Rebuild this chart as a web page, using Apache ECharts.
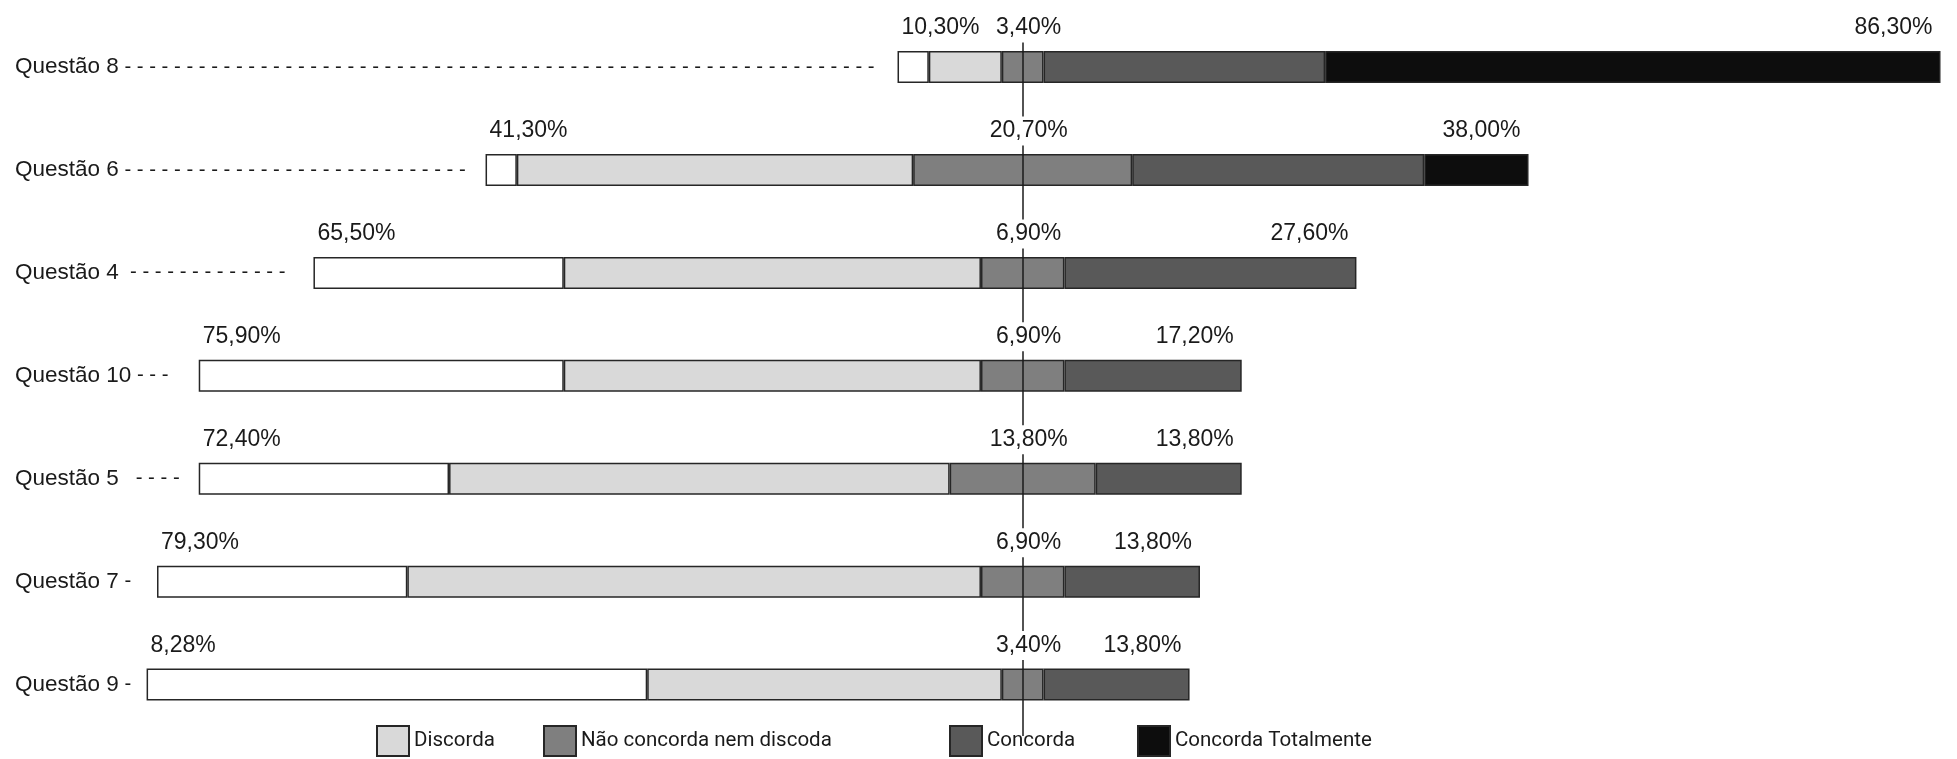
<!DOCTYPE html>
<html>
<head>
<meta charset="utf-8">
<script src="https://cdn.jsdelivr.net/npm/echarts@6/dist/echarts.min.js"></script>
<style>
html,body{margin:0;padding:0;background:#ffffff;}
#chart{width:1957px;height:759px;}
</style>
</head>
<body>
<div id="chart"></div>
<script>
// ---- data ----
const categories = ['Questão 8', 'Questão 6', 'Questão 4', 'Questão 10', 'Questão 5', 'Questão 7', 'Questão 9'];
const labelDashes = [
  ' -'.repeat(61),
  ' -'.repeat(28),
  '  -' + ' -'.repeat(12),
  ' -'.repeat(3),
  '   -' + ' -'.repeat(3),
  ' -',
  ' -'
];
const seriesNames = ['Discorda Totalmente', 'Discorda', 'Não concorda nem discoda', 'Concorda', 'Concorda Totalmente'];
const discordaTotalmente = [3, 3, 24, 35, 24, 24, 48];
const discorda           = [7, 38, 40, 40, 48, 55, 34];
const neutro             = [4, 21, 8, 8, 14, 8, 4];
const concorda           = [27, 28, 28, 17, 14, 13, 14];
const concordaTotalmente = [59, 10, 0, 0, 0, 0, 0];
// printed labels above the bars
const labelDiscordam = [10.3, 41.3, 65.5, 75.9, 72.4, 79.3, 8.28];
const labelNeutros   = [3.4, 20.7, 6.9, 6.9, 13.8, 6.9, 3.4];
const labelConcordam = [86.3, 38.0, 27.6, 17.2, 13.8, 13.8, 13.8];

// ---- chart ----
const CENTER = 90;   // value of the centre line on the hidden value axis
const AXIS_MAX = 178;
const fmt = v => v.toFixed(2).replace('.', ',') + '%';
const offsetData = categories.map((_, i) => CENTER - discordaTotalmente[i] - discorda[i] - neutro[i] / 2);
const centerData = categories.map(() => CENTER);

const border = { borderColor: '#262626', borderWidth: 1.5 };
const pctText = { fontFamily: 'Liberation Sans, Arial, sans-serif', fontSize: 23, color: '#1a1a1a' };
const colors = ['#ffffff', '#d9d9d9', '#7f7f7f', '#595959', '#0d0d0d'];
const values = [discordaTotalmente, discorda, neutro, concorda, concordaTotalmente];

const segSeries = seriesNames.map((name, k) => ({
  name: name,
  type: 'bar',
  stack: 'a',
  barWidth: 32,
  barGap: '-100%',
  itemStyle: Object.assign({ color: colors[k] }, border),
  data: values[k].map(v => (k === 4 && v === 0) ? '-' : v)
}));
// right-hand label: on the last non-empty segment
segSeries[3].label = Object.assign({
  show: true, position: ['100%', 0], align: 'right', verticalAlign: 'middle', offset: [-8, -23],
  formatter: p => concordaTotalmente[p.dataIndex] > 0 ? '' : fmt(labelConcordam[p.dataIndex])
}, pctText);
segSeries[4].label = Object.assign({
  show: true, position: ['100%', 0], align: 'right', verticalAlign: 'middle', offset: [-8, -23],
  formatter: p => fmt(labelConcordam[p.dataIndex])
}, pctText);

const chart = echarts.init(document.getElementById('chart'), null, { renderer: 'canvas' });

const legendBase = {
  orient: 'horizontal', top: 725, itemWidth: 32, itemHeight: 30, itemGap: 0, padding: 0,
  icon: 'rect', selectedMode: false,
  textStyle: { fontFamily: 'Roboto, sans-serif', fontSize: 20.5, color: '#1a1a1a', padding: [0, 0, 14, 0] }
};

chart.setOption({
  animation: false,
  backgroundColor: '#ffffff',
  grid: { left: 84, right: 16.5, top: 15.6, bottom: 23, containLabel: false },
  xAxis: { type: 'value', min: 0, max: AXIS_MAX, show: false },
  yAxis: {
    type: 'category',
    inverse: true,
    data: categories,
    axisLine: { show: false },
    axisTick: { show: false },
    splitLine: { show: false },
    axisLabel: {
      interval: 0,
      align: 'left',
      margin: 69,
      formatter: (v, i) => '{q|' + v + '}{d|' + labelDashes[i] + '}',
      rich: {
        q: { fontFamily: 'Liberation Sans, Arial, sans-serif', fontSize: 22.5, color: '#1a1a1a' },
        d: { fontFamily: 'Liberation Sans, Arial, sans-serif', fontSize: 20.3, color: '#1a1a1a' }
      }
    }
  },
  legend: [
    Object.assign({}, legendBase, { left: 376, data: ['Discorda'] }),
    Object.assign({}, legendBase, { left: 543, data: ['Não concorda nem discoda'] }),
    Object.assign({}, legendBase, { left: 949, data: ['Concorda'] }),
    Object.assign({}, legendBase, { left: 1137, data: ['Concorda Totalmente'] })
  ],
  series: [
    {
      name: '_offset', type: 'bar', stack: 'a', barWidth: 32, barGap: '-100%', silent: true,
      itemStyle: { color: 'transparent', borderWidth: 0 },
      data: offsetData,
      label: Object.assign({
        show: true, position: ['100%', 0], align: 'left', verticalAlign: 'middle', offset: [4, -23],
        formatter: p => fmt(labelDiscordam[p.dataIndex])
      }, pctText)
    },
    ...segSeries,
    {
      name: '_center', type: 'bar', stack: 'b', barWidth: 32, barGap: '-100%', silent: true, z: 10,
      itemStyle: { color: 'transparent', borderWidth: 0 },
      data: centerData,
      label: Object.assign({
        show: true, position: ['100%', 0], align: 'center', verticalAlign: 'middle', offset: [6, -23],
        backgroundColor: '#ffffff', padding: [3, 2, 3, 2],
        formatter: p => fmt(labelNeutros[p.dataIndex])
      }, pctText),
      markLine: {
        silent: true, symbol: 'none', z: 5,
        label: { show: false },
        lineStyle: { color: '#1a1a1a', width: 1.5, type: 'solid' },
        data: [{ xAxis: CENTER }]
      }
    }
  ]
});
</script>
</body>
</html>
